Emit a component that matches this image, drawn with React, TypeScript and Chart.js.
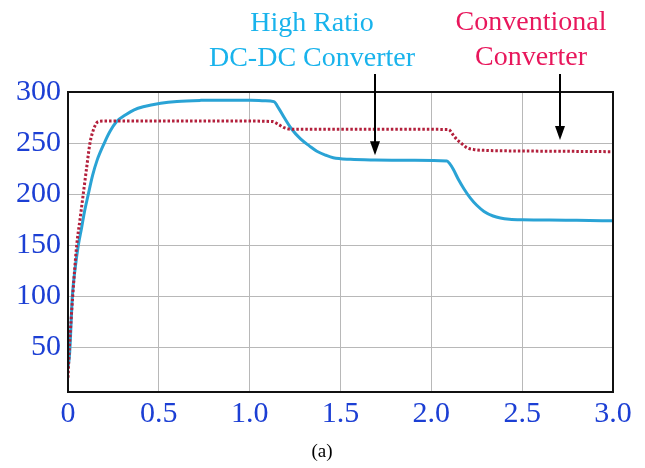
import React, { useEffect, useRef } from "react";
import { Chart, registerables } from "chart.js";

Chart.register(...registerables);

const highRatioT = [0, 0.007, 0.011, 0.024, 0.04, 0.057, 0.075, 0.09, 0.112, 0.135, 0.16, 0.2, 0.23, 0.268, 0.32, 0.364, 0.414, 0.51, 0.6, 0.73, 0.85, 1.005, 1.08, 1.133, 1.16, 1.19, 1.23, 1.28, 1.33, 1.37, 1.42, 1.46, 1.555, 1.69, 1.9, 2.086, 2.1, 2.12, 2.15, 2.18, 2.215, 2.25, 2.29, 2.34, 2.38, 2.43, 2.5, 2.65, 2.8, 3.0];
const highRatioV = [30, 40, 50, 100, 128, 150, 167, 182, 200, 218, 233, 250, 261, 271, 278, 282.5, 285.5, 289, 290.8, 291.8, 292, 292, 291.5, 290.5, 284, 275, 264, 254, 247, 242, 238, 235.6, 234, 233.3, 233, 232.4, 230, 224.5, 214, 205, 196, 189, 183, 178.5, 176.5, 175.3, 174.8, 174.6, 174.2, 173.8];

const convT = [0, 0.008, 0.026, 0.048, 0.066, 0.084, 0.102, 0.121, 0.14, 0.155, 0.167, 0.2, 0.6, 1.0, 1.125, 1.16, 1.19, 1.225, 1.26, 1.6, 2.0, 2.095, 2.12, 2.14, 2.17, 2.196, 2.24, 2.29, 2.5, 2.8, 3.0];
const convV = [20, 50, 100, 150, 175, 200, 225, 250, 263, 269, 271, 271.5, 271.5, 271.5, 271, 268, 265, 263.5, 263.4, 263.4, 263.4, 263.2, 258, 253.6, 249, 245.4, 243.5, 242.8, 242.2, 241.8, 241.5];

const xTicks = [0, 0.5, 1.0, 1.5, 2.0, 2.5, 3.0];
const xTickLabels = ["0", "0.5", "1.0", "1.5", "2.0", "2.5", "3.0"];
const yTicks = [50, 100, 150, 200, 250, 300];

const seriesNames = ["High Ratio DC-DC Converter", "Conventional Converter"];
const annotationLines = [["High Ratio", "DC-DC Converter"], ["Conventional", "Converter"]];
// arrow tip positions in data units (t, value)
const arrowTipT = [1.69, 2.71];
const arrowTipV = [238, 253];
const caption = "(a)";

const BLUE_LINE = "#2aa3d5";
const RED_DOT = "#b3203c";
const TICK_BLUE = "#1c3fd4";
const CYAN_TEXT = "#19b3ec";
const PINK_TEXT = "#e8175c";
const SERIF = "'Liberation Serif', 'Times New Roman', Times, serif";

export default function App() {
  const ref = useRef<HTMLCanvasElement | null>(null);

  useEffect(() => {
    if (!ref.current) return;
    const decor = {
      id: "decor",
      afterDraw(chart: any) {
        const ctx = chart.ctx;
        const a = chart.chartArea;
        const xs = chart.scales.x;
        const ys = chart.scales.y;
        ctx.save();
        // frame
        ctx.strokeStyle = "#111";
        ctx.lineWidth = 2;
        ctx.strokeRect(a.left, a.top, a.right - a.left, a.bottom - a.top);
        // annotation texts
        ctx.font = "28px " + SERIF;
        ctx.textAlign = "center";
        ctx.textBaseline = "middle";
        ctx.fillStyle = CYAN_TEXT;
        ctx.fillText(annotationLines[0][0], 312, 24);
        ctx.fillText(annotationLines[0][1], 312, 59);
        ctx.fillStyle = PINK_TEXT;
        ctx.fillText(annotationLines[1][0], 531, 23);
        ctx.fillText(annotationLines[1][1], 531, 58);
        // arrows
        ctx.strokeStyle = "#000";
        ctx.fillStyle = "#000";
        ctx.lineWidth = 2;
        for (let i = 0; i < arrowTipT.length; i++) {
          const x = Math.round(xs.getPixelForValue(arrowTipT[i]));
          const y = ys.getPixelForValue(arrowTipV[i]);
          ctx.beginPath();
          ctx.moveTo(x, 74);
          ctx.lineTo(x, y - 10);
          ctx.stroke();
          ctx.beginPath();
          ctx.moveTo(x, y);
          ctx.lineTo(x - 5, y - 14);
          ctx.lineTo(x + 5, y - 14);
          ctx.closePath();
          ctx.fill();
        }
        // caption
        ctx.font = "19px " + SERIF;
        ctx.fillStyle = "#000";
        ctx.fillText(caption, 322, 452);
        ctx.restore();
      },
    };

    let chart: any = null;
    let cancelled = false;
    const build = () => {
      if (cancelled || !ref.current) return;
      chart = new Chart(ref.current, {
        type: "line",
        data: {
          datasets: [
            {
              label: seriesNames[1],
              data: convT.map((t, i) => ({ x: t, y: convV[i] })),
              borderColor: RED_DOT,
              borderWidth: 3,
              borderDash: [2.5, 2],
              pointRadius: 0,
              cubicInterpolationMode: "monotone",
            },
            {
              label: seriesNames[0],
              data: highRatioT.map((t, i) => ({ x: t, y: highRatioV[i] })),
              borderColor: BLUE_LINE,
              borderWidth: 3,
              pointRadius: 0,
              cubicInterpolationMode: "monotone",
            },
          ],
        },
        options: {
          animation: false,
          responsive: false,
          layout: { padding: { top: 92, right: 32, left: 0, bottom: 0 } },
          plugins: { legend: { display: false }, tooltip: { enabled: false } },
          scales: {
            x: {
              type: "linear",
              min: 0,
              max: 3,
              afterBuildTicks: (s: any) => {
                s.ticks = xTicks.map((v) => ({ value: v }));
              },
              afterFit: (s: any) => {
                s.height = 76;
              },
              grid: { color: "#b8b8b8", lineWidth: 1, drawTicks: false },
              border: { display: false },
              ticks: {
                padding: 4,
                color: TICK_BLUE,
                font: { family: SERIF, size: 30 },
                maxRotation: 0,
                autoSkip: false,
                callback: (v: any) => {
                  const i = xTicks.indexOf(Number(v));
                  return i >= 0 ? xTickLabels[i] : "";
                },
              },
            },
            y: {
              type: "linear",
              min: 6,
              max: 300,
              afterBuildTicks: (s: any) => {
                s.ticks = yTicks.map((v) => ({ value: v }));
              },
              afterFit: (s: any) => {
                s.width = 68;
              },
              grid: { color: "#b8b8b8", lineWidth: 1, drawTicks: false },
              border: { display: false },
              ticks: {
                padding: 7,
                color: TICK_BLUE,
                font: { family: SERIF, size: 30 },
                autoSkip: false,
              },
            },
          },
        },
        plugins: [decor],
      } as any);
    };
    const fontsApi = (document as any).fonts;
    if (fontsApi && fontsApi.load) {
      Promise.all([
        fontsApi.load("30px 'Liberation Serif'"),
        fontsApi.load("28px 'Liberation Serif'"),
      ])
        .catch(() => null)
        .then(build);
    } else {
      build();
    }
    return () => {
      cancelled = true;
      if (chart) chart.destroy();
    };
  }, []);

  return (
    <div style={{ position: "fixed", left: 0, top: 0, width: 645, height: 468, background: "#fff" }}>
      <canvas ref={ref} width={645} height={468} style={{ width: 645, height: 468 }} />
    </div>
  );
}
